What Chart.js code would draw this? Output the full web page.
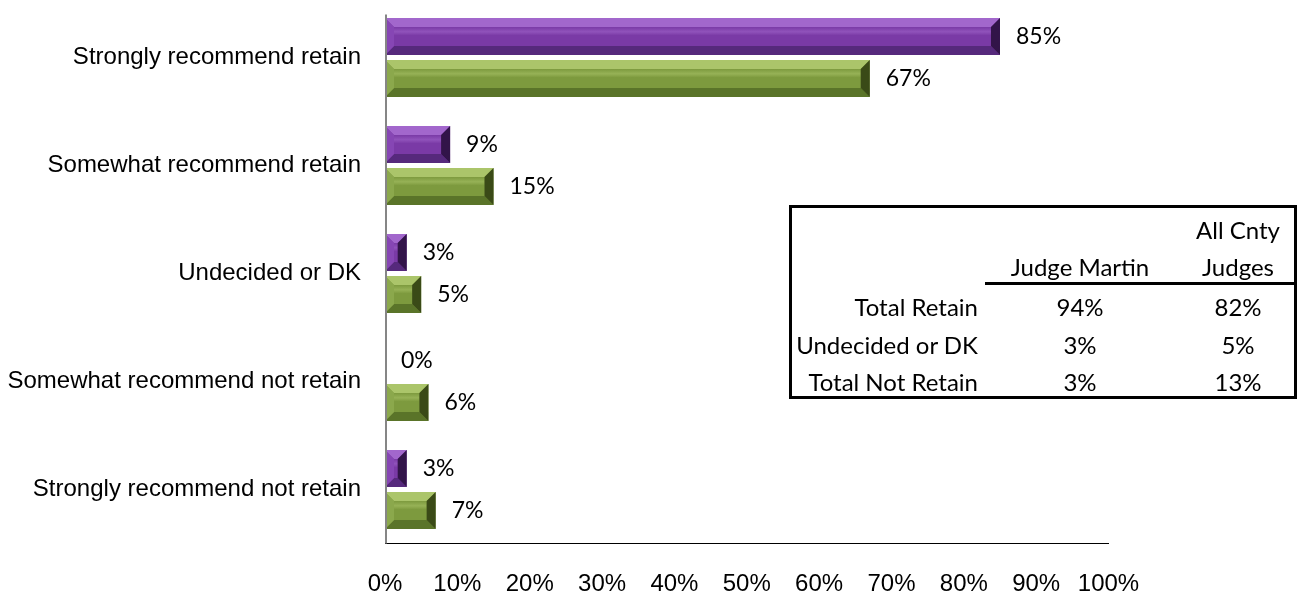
<!DOCTYPE html>
<html>
<head>
<meta charset="utf-8">
<title>Judge Martin retention</title>
<script src="https://cdn.jsdelivr.net/npm/chart.js@4.4.1/dist/chart.umd.min.js"></script>
<style>
    html, body { margin: 0; padding: 0; background: #fff; }
    #wrap { position: relative; width: 1305px; height: 597px; }
    #summary {
        position: absolute; left: 789px; top: 205px; width: 502px; height: 188px;
        border: 3px solid #000; font-family: Lato, "Open Sans", sans-serif; font-size: 24px; color: #000;
    }
    #summary span { position: absolute; white-space: nowrap; line-height: 1; transform: translateY(-50%); }
    #summary .rule { position: absolute; height: 3px; background: #000; }
</style>
</head>
<body>
<div id="wrap">
    <canvas id="retainChart"></canvas>
    <div id="summary"></div>
</div>
<script>
// ============================================
// DATA
// ============================================
const categories = [
    'Strongly recommend retain',
    'Somewhat recommend retain',
    'Undecided or DK',
    'Somewhat recommend not retain',
    'Strongly recommend not retain'
];
const judgeMartin = [85, 9, 3, 0, 3];
const allCntyJudges = [67, 15, 5, 6, 7];

const tableHeaders = ['Judge Martin', 'All Cnty Judges'];
const tableRows = ['Total Retain', 'Undecided or DK', 'Total Not Retain'];
const tableMartin = ['94%', '3%', '3%'];
const tableCnty = ['82%', '5%', '13%'];

// bevel colours per series: face, top, bottom, right end, left end
const purpleTones = { face: '#7a3aa6', top: '#a267cc', bottom: '#56297c', right: '#321449', left: '#8646b4' };
const greenTones = { face: '#7d9a3e', top: '#abc56a', bottom: '#5a7429', right: '#3a4a17', left: '#8ba84c' };

// ============================================
// PLUGINS
// ============================================
const bevelPlugin = {
    id: 'bevel',
    afterDatasetsDraw(chart) {
        const ctx = chart.ctx;
        chart.data.datasets.forEach((ds, i) => {
            const meta = chart.getDatasetMeta(i);
            const tones = ds.tones;
            meta.data.forEach((bar, j) => {
                const p = bar.getProps(['x', 'y', 'base', 'height'], true);
                const L = Math.min(p.base, p.x), R = Math.max(p.base, p.x);
                const T = p.y - p.height / 2, B = p.y + p.height / 2;
                if (R - L > 0.5) {
                    const b = Math.min(9, (R - L) / 2, p.height / 2);
                    // face sheen
                    const g = ctx.createLinearGradient(0, T + b, 0, B - b);
                    g.addColorStop(0, tones.face);
                    g.addColorStop(0.25, tones.top);
                    g.addColorStop(0.45, tones.face);
                    g.addColorStop(1, tones.face);
                    ctx.save();
                    ctx.globalAlpha = 0.55;
                    ctx.fillStyle = g;
                    ctx.fillRect(L + b, T + b, R - L - 2 * b, B - T - 2 * b);
                    ctx.restore();
                    const poly = (pts, col) => {
                        ctx.beginPath();
                        ctx.moveTo(pts[0][0], pts[0][1]);
                        pts.slice(1).forEach(q => ctx.lineTo(q[0], q[1]));
                        ctx.closePath();
                        ctx.fillStyle = col;
                        ctx.fill();
                    };
                    poly([[L, T], [R, T], [R - b, T + b], [L + b, T + b]], tones.top);
                    poly([[L, B], [R, B], [R - b, B - b], [L + b, B - b]], tones.bottom);
                    poly([[L, T], [L + b, T + b], [L + b, B - b], [L, B]], tones.left);
                    poly([[R, T], [R - b, T + b], [R - b, B - b], [R, B]], tones.right);
                }
                // value label
                ctx.save();
                ctx.font = '23px Lato, "Open Sans", sans-serif';
                ctx.fillStyle = '#000';
                ctx.textAlign = 'left';
                ctx.textBaseline = 'middle';
                ctx.fillText(ds.data[j] + '%', R + 16, p.y);
                ctx.restore();
            });
        });
    }
};

// y axis line starts a little below the top of the plot, like the original
const axisLinePlugin = {
    id: 'axisLine',
    afterDraw(chart) {
        const a = chart.chartArea;
        const ctx = chart.ctx;
        ctx.save();
        ctx.strokeStyle = '#868686';
        ctx.lineWidth = 2;
        ctx.beginPath();
        ctx.moveTo(a.left + 1, a.top + 11);
        ctx.lineTo(a.left + 1, a.bottom);
        ctx.stroke();
        ctx.restore();
    }
};

// ============================================
// CHART
// ============================================
function buildChart() {
    const ctx = document.getElementById('retainChart');
    return new Chart(ctx.getContext('2d'), {
        type: 'bar',
        data: {
            labels: categories,
            datasets: [
                {
                    label: tableHeaders[0],
                    data: judgeMartin,
                    backgroundColor: purpleTones.face,
                    tones: purpleTones,
                    categoryPercentage: 0.778,
                    barPercentage: 0.88
                },
                {
                    label: tableHeaders[1],
                    data: allCntyJudges,
                    backgroundColor: greenTones.face,
                    tones: greenTones,
                    categoryPercentage: 0.778,
                    barPercentage: 0.88
                }
            ]
        },
        options: {
            indexAxis: 'y',
            responsive: true,
            maintainAspectRatio: false,
            animation: false,
            layout: { padding: { top: 3.5, right: 196.5, bottom: 0, left: 0 } },
            plugins: {
                legend: { display: false },
                tooltip: { enabled: false }
            },
            scales: {
                x: {
                    min: 0,
                    max: 100,
                    ticks: {
                        stepSize: 10,
                        padding: 26,
                        color: '#000',
                        font: { family: '"Liberation Sans", Arial, sans-serif', size: 24 },
                        callback: v => v + '%'
                    },
                    grid: { display: false, drawTicks: false },
                    border: { display: true, color: '#000', width: 1 },
                    afterFit: s => {
                        s.height = 53.5;
                        s.paddingLeft = 0;
                        s.paddingRight = 0;
                    }
                },
                y: {
                    ticks: {
                        padding: 24,
                        color: '#000',
                        font: { family: '"Liberation Sans", Arial, sans-serif', size: 24 }
                    },
                    grid: { display: false, drawTicks: false },
                    border: { display: false },
                    afterFit: s => {
                        s.width = 385;
                        // labels sit inside their bands, no extra room needed above or below
                        s.paddingTop = 0;
                        s.paddingBottom = 0;
                    }
                }
            }
        },
        plugins: [bevelPlugin, axisLinePlugin]
    });
}

// ============================================
// SUMMARY TABLE
// ============================================
function buildTable() {
    const box = document.getElementById('summary');
    const ox = 792, oy = 208; // inner origin of the box
    const colX = [1080, 1238];
    const rowY = [307, 345, 382];

    function put(text, x, y, align) {
        const s = document.createElement('span');
        s.textContent = text;
        if (align === 'right') {
            s.style.right = (ox + 502 - x) + 'px';
        } else {
            s.style.left = (x - ox) + 'px';
            s.style.transform = 'translate(-50%, -50%)';
        }
        s.style.top = (y - oy) + 'px';
        box.appendChild(s);
    }

    put(tableHeaders[0], colX[0], 267);
    put('All Cnty', colX[1], 230);
    put('Judges', colX[1], 267);

    const rule = document.createElement('div');
    rule.className = 'rule';
    rule.style.left = (985 - ox) + 'px';
    rule.style.right = '0px';
    rule.style.top = (282 - oy) + 'px';
    box.appendChild(rule);

    tableRows.forEach((r, i) => {
        put(r, 978, rowY[i], 'right');
        put(tableMartin[i], colX[0], rowY[i]);
        put(tableCnty[i], colX[1], rowY[i]);
    });
}

buildChart();
buildTable();
</script>
</body>
</html>
